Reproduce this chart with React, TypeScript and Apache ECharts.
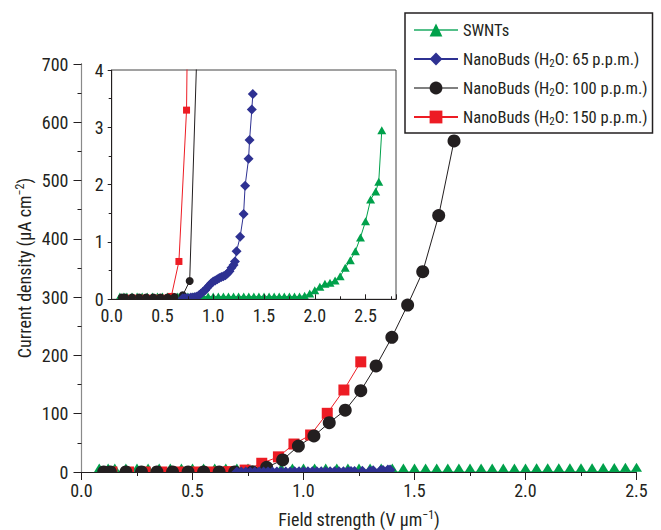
import React, { useEffect, useRef } from "react";
import * as echarts from "echarts";

const FONT = "'Liberation Sans Narrow', 'Roboto Condensed', 'Liberation Sans', Arial, sans-serif";
const TEXT = "#231f20";
const GREEN = "#00a14b";
const BLUE = "#2e3192";
const BLACK = "#231f20";
const RED = "#ed1c24";

const seriesNames = [
  "SWNTs",
  "NanoBuds (H₂O: 65 p.p.m.)",
  "NanoBuds (H₂O: 100 p.p.m.)",
  "NanoBuds (H₂O: 150 p.p.m.)",
];
const legendLabels = [
  "SWNTs",
  "NanoBuds (H{sub|2}O: 65 p.p.m.)",
  "NanoBuds (H{sub|2}O: 100 p.p.m.)",
  "NanoBuds (H{sub|2}O: 150 p.p.m.)",
];

const mainXTicks = [0, 0.5, 1.0, 1.5, 2.0, 2.5];
const mainYTicks = [0, 100, 200, 300, 400, 500, 600, 700];
const insetYTicks = [0, 1, 2, 3, 4];

// SWNTs (shared by main plot and inset)
const swntX = [
  0.08, 0.12, 0.15, 0.2, 0.25, 0.3, 0.35, 0.4, 0.45, 0.5, 0.55, 0.6, 0.65, 0.7, 0.75, 0.8, 0.85, 0.9, 0.95,
  1.0, 1.05, 1.1, 1.15, 1.2, 1.25, 1.3, 1.35, 1.4, 1.45, 1.5, 1.55, 1.6, 1.65, 1.7, 1.75, 1.8, 1.85,
  1.9, 1.95, 2.0, 2.05, 2.1, 2.15, 2.2, 2.25, 2.3, 2.35, 2.4, 2.45, 2.5, 2.55, 2.6, 2.63, 2.66,
];
const swntY = [
  0.05, 0.05, 0.05, 0.05, 0.05, 0.05, 0.05, 0.05, 0.05, 0.05, 0.05, 0.05, 0.05, 0.05, 0.05, 0.05, 0.05, 0.05, 0.05,
  0.05, 0.05, 0.05, 0.05, 0.05, 0.05, 0.05, 0.05, 0.05, 0.05, 0.05, 0.05, 0.05, 0.05, 0.05, 0.05, 0.05, 0.05,
  0.06, 0.1, 0.16, 0.22, 0.27, 0.29, 0.33, 0.4, 0.55, 0.68, 0.84, 1.08, 1.36, 1.74, 1.88, 2.05, 2.95,
];

// NanoBuds 65 ppm (shared)
const nb65X = [
  0.7, 0.72, 0.74, 0.76, 0.78, 0.8, 0.82, 0.84, 0.86, 0.88, 0.9, 0.92, 0.94, 0.96, 0.98, 1.0, 1.02, 1.04,
  1.06, 1.08, 1.1, 1.12, 1.14, 1.16, 1.18, 1.2, 1.214, 1.23, 1.265, 1.299, 1.314, 1.348, 1.358, 1.38, 1.39,
];
const nb65Y = [
  0.02, 0.02, 0.02, 0.02, 0.03, 0.03, 0.04, 0.05, 0.07, 0.1, 0.13, 0.16, 0.2, 0.24, 0.28, 0.31, 0.33, 0.35,
  0.37, 0.39, 0.4, 0.42, 0.45, 0.49, 0.55, 0.6, 0.66, 0.84, 1.09, 1.49, 1.98, 2.45, 2.78, 3.31, 3.58,
];

// NanoBuds 100 ppm (main plot)
const nb100X = [
  0.1, 0.13, 0.2, 0.27, 0.34, 0.41, 0.48, 0.55, 0.62, 0.69, 0.77, 0.834, 0.906, 0.977, 1.047, 1.116, 1.188,
  1.258, 1.327, 1.398, 1.469, 1.537, 1.609, 1.678,
];
const nb100Y = [
  0, 0, 0, 0, 0, 0, 0, 0, 0, 0.1, 0.3, 8, 20.6, 44.6, 61.8, 84.6, 106, 139.5, 182, 231, 286.5, 343.6, 440, 568,
];
// NanoBuds 100 ppm (inset)
const nb100InsetX = [0.1, 0.13, 0.2, 0.27, 0.34, 0.41, 0.48, 0.55, 0.62, 0.7, 0.768, 0.86];
const nb100InsetY = [0.03, 0.03, 0.03, 0.03, 0.03, 0.03, 0.03, 0.03, 0.04, 0.07, 0.32, 5.5];

// NanoBuds 150 ppm (shared)
const nb150X = [
  0.137, 0.212, 0.287, 0.362, 0.437, 0.512, 0.587, 0.662, 0.737, 0.812, 0.887, 0.957, 1.032, 1.107, 1.182, 1.258,
];
const nb150Y = [0.02, 0.02, 0.02, 0.02, 0.02, 0.02, 0.05, 0.66, 3.3, 15, 26, 48, 63.5, 100.7, 140.7, 189];

const zip = (xs: number[], ys: number[]) => xs.map((x, i) => [x, ys[i]]);

export default function App() {
  const ref = useRef<HTMLDivElement>(null);
  useEffect(() => {
    if (!ref.current) return;
    const chart = echarts.init(ref.current, undefined, { renderer: "svg" });
    const labelStyle = { fontFamily: FONT, fontSize: 18, color: TEXT };
    const supRich = {
      sup: { fontFamily: FONT, fontSize: 12, lineHeight: 12, verticalAlign: "top", color: TEXT },
    };
    const subRich = {
      sub: { fontFamily: FONT, fontSize: 11, lineHeight: 11, verticalAlign: "bottom", color: TEXT },
    };
    const axisLine = { show: true, lineStyle: { color: TEXT, width: 1 } };
    const legendMap: Record<string, string> = {};
    seriesNames.forEach((n, i) => (legendMap[n] = legendLabels[i]));

    const option: any = {
      animation: false,
      backgroundColor: "#fff",
      grid: [
        { left: 81.5, right: 24.5, top: 64, bottom: 58 },
        {
          left: 111.7,
          top: 70,
          width: 284.3,
          height: 229.3,
          show: true,
          backgroundColor: "#fff",
          borderColor: "#444",
          borderWidth: 1,
          z: 4,
        },
      ],
      xAxis: [
        {
          type: "value",
          gridIndex: 0,
          min: mainXTicks[0],
          max: mainXTicks[mainXTicks.length - 1],
          interval: 0.5,
          z: 10,
          axisLine,
          axisTick: { show: true, length: 8, lineStyle: { color: TEXT } },
          minorTick: { show: true, splitNumber: 2, length: 4, lineStyle: { color: TEXT } },
          splitLine: { show: false },
          axisLabel: { ...labelStyle, margin: 9, formatter: (v: number) => v.toFixed(1) },
        },
        {
          type: "value",
          gridIndex: 0,
          position: "top",
          min: 0,
          max: 1,
          z: 10,
          axisLine,
          axisTick: { show: false },
          axisLabel: { show: false },
          splitLine: { show: false },
        },
        {
          type: "value",
          gridIndex: 1,
          min: 0,
          max: 2.8,
          interval: 0.5,
          z: 10,
          axisLine,
          axisTick: { show: true, inside: true, length: 5, lineStyle: { color: TEXT } },
          minorTick: { show: true, splitNumber: 2, length: 3, lineStyle: { color: TEXT } },
          splitLine: { show: false },
          axisLabel: { ...labelStyle, margin: 7, showMaxLabel: false, formatter: (v: number) => v.toFixed(1) },
        },
      ],
      yAxis: [
        {
          type: "value",
          gridIndex: 0,
          min: mainYTicks[0],
          max: mainYTicks[mainYTicks.length - 1],
          interval: 100,
          z: 10,
          axisLine,
          axisTick: { show: true, length: 8, lineStyle: { color: TEXT } },
          minorTick: { show: true, splitNumber: 2, length: 4, lineStyle: { color: TEXT } },
          splitLine: { show: false },
          axisLabel: { ...labelStyle, margin: 13 },
        },
        {
          type: "value",
          gridIndex: 0,
          position: "right",
          min: 0,
          max: 1,
          z: 10,
          axisLine: { show: true, lineStyle: { color: "#8a8a8a", width: 1.2 } },
          axisTick: { show: false },
          axisLabel: { show: false },
          splitLine: { show: false },
        },
        {
          type: "value",
          gridIndex: 1,
          min: insetYTicks[0],
          max: insetYTicks[insetYTicks.length - 1],
          interval: 1,
          z: 10,
          axisLine,
          axisTick: { show: true, length: 4, lineStyle: { color: TEXT } },
          minorTick: { show: true, splitNumber: 2, length: 3, lineStyle: { color: TEXT } },
          splitLine: { show: false },
          axisLabel: { ...labelStyle, margin: 8 },
        },
      ],
      legend: {
        left: 405,
        top: 13,
        orient: "vertical",
        padding: [7, 5, 6, 8],
        itemGap: 9,
        itemWidth: 44,
        itemHeight: 16,
        backgroundColor: "#fff",
        borderColor: TEXT,
        borderWidth: 1.5,
        selectedMode: false,
        z: 20,
        formatter: (name: string) => legendMap[name] ?? name,
        textStyle: { fontFamily: FONT, fontSize: 16.5, color: TEXT, lineHeight: 20, rich: subRich },
        data: [
          { name: seriesNames[0], lineStyle: { color: "#55c08a" } },
          { name: seriesNames[1] },
          { name: seriesNames[2], lineStyle: { color: "#808080" } },
          { name: seriesNames[3] },
        ],
      },
      graphic: [
        {
          type: "rect",
          z: 6,
          shape: { x: 82, y: 472.5, width: 556, height: 9 },
          style: { fill: "#fff" },
        },
        {
          type: "rect",
          z: 6,
          shape: { x: 112.5, y: 299.8, width: 283, height: 6 },
          style: { fill: "#fff" },
        },
        {
          type: "text",
          z: 10,
          x: 359,
          y: 519,
          style: {
            text: "Field strength (V μm{sup|−1})",
            fontFamily: FONT,
            fontSize: 18,
            fill: TEXT,
            lineHeight: 20,
            align: "center",
            verticalAlign: "middle",
            rich: supRich,
          },
        },
        {
          type: "text",
          z: 10,
          x: 24,
          y: 268,
          rotation: Math.PI / 2,
          style: {
            text: "Current density (μA cm{sup|−2})",
            fontFamily: FONT,
            fontSize: 18,
            fill: TEXT,
            lineHeight: 20,
            align: "center",
            verticalAlign: "middle",
            rich: supRich,
          },
        },
      ],
      series: [
        // main plot
        {
          name: seriesNames[0],
          type: "line",
          xAxisIndex: 0,
          yAxisIndex: 0,
          data: zip(swntX, swntY),
          symbol: "triangle",
          symbolSize: [11, 9],
          symbolOffset: [0, -4],
          lineStyle: { color: GREEN, width: 1 },
          itemStyle: { color: GREEN },
        },
        {
          name: seriesNames[3],
          type: "line",
          xAxisIndex: 0,
          yAxisIndex: 0,
          data: zip(nb150X, nb150Y),
          symbol: "rect",
          symbolSize: 11,
          lineStyle: { color: RED, width: 1 },
          itemStyle: { color: RED },
        },
        {
          name: seriesNames[2],
          type: "line",
          xAxisIndex: 0,
          yAxisIndex: 0,
          data: zip(nb100X, nb100Y),
          symbol: "circle",
          symbolSize: 13,
          lineStyle: { color: BLACK, width: 1 },
          itemStyle: { color: BLACK },
        },
        {
          name: seriesNames[1],
          type: "line",
          xAxisIndex: 0,
          yAxisIndex: 0,
          data: zip(nb65X, nb65Y),
          symbol: "diamond",
          symbolSize: 11,
          lineStyle: { color: BLUE, width: 1 },
          itemStyle: { color: BLUE },
        },
        // inset
        {
          name: seriesNames[0],
          type: "line",
          xAxisIndex: 2,
          yAxisIndex: 2,
          z: 5,
          data: zip(swntX, swntY),
          symbol: "triangle",
          symbolSize: [9, 8],
          lineStyle: { color: GREEN, width: 1 },
          itemStyle: { color: GREEN },
        },
        {
          name: seriesNames[3],
          type: "line",
          xAxisIndex: 2,
          yAxisIndex: 2,
          z: 5,
          data: zip(nb150X, nb150Y),
          symbol: "rect",
          symbolSize: 7,
          lineStyle: { color: RED, width: 1 },
          itemStyle: { color: RED },
        },
        {
          name: seriesNames[2],
          type: "line",
          xAxisIndex: 2,
          yAxisIndex: 2,
          z: 5,
          data: zip(nb100InsetX, nb100InsetY),
          symbol: "circle",
          symbolSize: 8,
          lineStyle: { color: BLACK, width: 1 },
          itemStyle: { color: BLACK },
        },
        {
          name: seriesNames[1],
          type: "line",
          xAxisIndex: 2,
          yAxisIndex: 2,
          z: 5,
          data: zip(nb65X, nb65Y),
          symbol: "diamond",
          symbolSize: 10,
          lineStyle: { color: BLUE, width: 1 },
          itemStyle: { color: BLUE },
        },
      ],
    };
    chart.setOption(option);
    return () => chart.dispose();
  }, []);
  return (
    <div
      ref={ref}
      style={{ position: "fixed", left: 0, top: 0, width: 661, height: 530, background: "#fff" }}
    />
  );
}
